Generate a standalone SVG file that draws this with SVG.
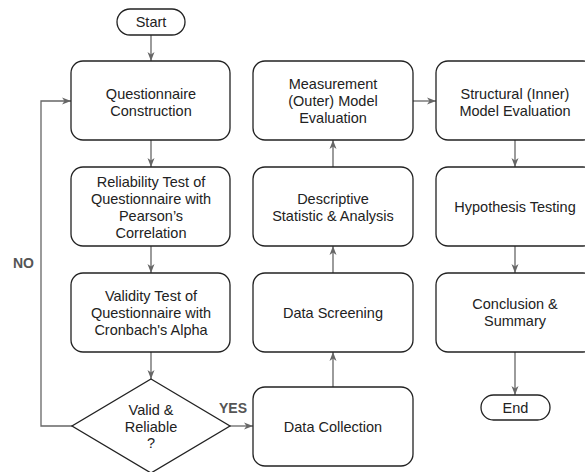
<svg xmlns="http://www.w3.org/2000/svg" width="585" height="472" viewBox="0 0 585 472">
<style>
.box{fill:#fff;stroke:#222;stroke-width:1.3}
.t{font-family:"Liberation Sans",Arial,sans-serif;font-size:14.5px;fill:#222;text-anchor:middle}
.lbl{font-family:"Liberation Sans",Arial,sans-serif;font-size:14px;font-weight:bold;fill:#555}
.c{fill:none;stroke:#666;stroke-width:1.3;marker-end:url(#ah)}
</style>
<defs>
<marker id="ah" markerUnits="userSpaceOnUse" markerWidth="10" markerHeight="8" refX="9" refY="4" orient="auto">
<path d="M0,0.5 L9,4 L0,7.5 L2.5,4 z" fill="#666"/>
</marker>
</defs>
<rect width="585" height="472" fill="#fff"/>
<g id="connectors">
<path class="c" d="M151,35 V61"/>
<path class="c" d="M151,140 V167"/>
<path class="c" d="M151,246 V273"/>
<path class="c" d="M151,352 V379"/>
<path class="c" d="M230,426 H253"/>
<path class="c" d="M72,426 H41 V101 H71"/>
<path class="c" d="M333,387 V352"/>
<path class="c" d="M333,273 V246"/>
<path class="c" d="M333,167 V140"/>
<path class="c" d="M413,101 H436"/>
<path class="c" d="M515,140 V167"/>
<path class="c" d="M515,246 V273"/>
<path class="c" d="M515,352 V395"/>
<text class="lbl" x="13" y="268">NO</text>
<text class="lbl" x="219" y="413">YES</text>
</g>
<g id="start"><rect class="box" x="117" y="9" width="68" height="26" rx="13"/><text class="t" x="151" y="27">Start</text></g>
<g id="qc"><rect class="box" x="71" y="61" width="159" height="79" rx="12"/><text class="t" x="151" y="99">Questionnaire</text><text class="t" x="151" y="116">Construction</text></g>
<g id="reliability"><rect class="box" x="71" y="167" width="159" height="79" rx="12"/><text class="t" x="151" y="187">Reliability Test of</text><text class="t" x="151" y="204">Questionnaire with</text><text class="t" x="151" y="221">Pearson’s</text><text class="t" x="151" y="238">Correlation</text></g>
<g id="validity"><rect class="box" x="71" y="273" width="159" height="79" rx="12"/><text class="t" x="151" y="301">Validity Test of</text><text class="t" x="151" y="318">Questionnaire with</text><text class="t" x="151" y="335">Cronbach's Alpha</text></g>
<g id="decision"><polygon class="box" points="151,379 230,426 151,473 72,426"/><text class="t" x="151" y="415">Valid &amp;</text><text class="t" x="151" y="432">Reliable</text><text class="t" x="151" y="448">?</text></g>
<g id="collection"><rect class="box" x="253" y="387" width="160" height="79" rx="12"/><text class="t" x="333" y="432">Data Collection</text></g>
<g id="screening"><rect class="box" x="253" y="273" width="160" height="79" rx="12"/><text class="t" x="333" y="318">Data Screening</text></g>
<g id="descriptive"><rect class="box" x="253" y="167" width="160" height="79" rx="12"/><text class="t" x="333" y="204">Descriptive</text><text class="t" x="333" y="221">Statistic &amp; Analysis</text></g>
<g id="measurement"><rect class="box" x="253" y="61" width="160" height="79" rx="12"/><text class="t" x="333" y="89">Measurement</text><text class="t" x="333" y="106">(Outer) Model</text><text class="t" x="333" y="123">Evaluation</text></g>
<g id="structural"><rect class="box" x="436" y="61" width="159" height="79" rx="12"/><text class="t" x="515" y="99">Structural (Inner)</text><text class="t" x="515" y="116">Model Evaluation</text></g>
<g id="hypothesis"><rect class="box" x="436" y="167" width="159" height="79" rx="12"/><text class="t" x="515" y="212">Hypothesis Testing</text></g>
<g id="conclusion"><rect class="box" x="436" y="273" width="159" height="79" rx="12"/><text class="t" x="515" y="309">Conclusion &amp;</text><text class="t" x="515" y="326">Summary</text></g>
<g id="end"><rect class="box" x="481" y="395" width="69" height="25" rx="12.5"/><text class="t" x="515.5" y="413">End</text></g>
</svg>
